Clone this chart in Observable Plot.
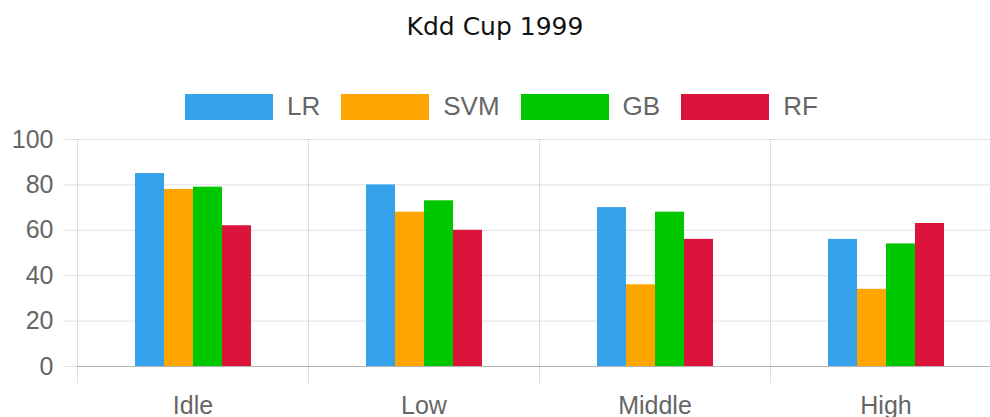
<!DOCTYPE html>
<html>
<head>
<meta charset="utf-8">
<script src="https://cdn.jsdelivr.net/npm/d3@7"></script>
<script src="https://cdn.jsdelivr.net/npm/@observablehq/plot@0.6"></script>
<style>
  html, body { margin: 0; padding: 0; background: #fff; overflow: hidden; width: 990px; height: 417px; }
  #wrap { position: relative; width: 990px; height: 417px; overflow: hidden; }
  #title { position: absolute; left: 0; width: 990px; top: 14px; text-align: center;
           font-family: "DejaVu Sans", sans-serif; font-size: 25px; line-height: 25px; color: #111; }
  #legend { position: absolute; left: 185px; top: 91px; display: flex; align-items: center; white-space: nowrap;
            font-family: "Liberation Sans", Arial, sans-serif; font-size: 26px; color: #666; }
  .item { display: flex; align-items: center; margin-right: 21px; }
  .box { width: 88px; height: 26px; margin-right: 14px; box-sizing: border-box; }
  #chart { position: absolute; left: 0; top: 0; width: 1001px; }
  #chart svg { max-width: none !important; width: 1001px; height: 417px; }
</style>
</head>
<body>
<div id="wrap">
  <div id="chart"></div>
  <div id="title"></div>
  <div id="legend"></div>
</div>
<script>
const title = "Kdd Cup 1999";
const categories = ["Idle", "Low", "Middle", "High"];
const models = ["LR", "SVM", "GB", "RF"];
const colors = ["#36a2eb", "#ffa500", "#00c800", "#dc143c"];
const LR = [85, 80, 70, 56];
const SVM = [78, 68, 36, 34];
const GB = [79, 73, 68, 54];
const RF = [62, 60, 56, 63];
const yTicks = [0, 20, 40, 60, 80, 100];

const series = {LR, SVM, GB, RF};
const data = [];
categories.forEach((c, i) => models.forEach(m => data.push({category: c, model: m, value: series[m][i]})));

document.getElementById("title").textContent = title;
const legend = document.getElementById("legend");
models.forEach((m, i) => {
  const it = document.createElement("div"); it.className = "item";
  const b = document.createElement("div"); b.className = "box"; b.style.background = colors[i];
  const t = document.createElement("span"); t.textContent = m;
  it.appendChild(b); it.appendChild(t); legend.appendChild(it);
});

const chart = Plot.plot({
  width: 1001,
  height: 417,
  marginTop: 139,
  marginBottom: 51,
  marginLeft: 77,
  marginRight: 0,
  fx: {domain: categories, padding: 0, label: null, axis: null},
  x: {domain: models, padding: 0, inset: 57, axis: null},
  y: {domain: [0, 100], label: null, axis: null},
  color: {domain: models, range: colors},
  style: {fontFamily: "'Liberation Sans', Arial, sans-serif", fontSize: "25px", color: "#666", background: "transparent"},
  marks: [
    Plot.gridY(yTicks, {stroke: "#000", strokeOpacity: 0.12}),
    Plot.frame({anchor: "left", stroke: "#000", strokeOpacity: 0.13, insetBottom: -16}),
    Plot.axisY(yTicks, {anchor: "left", tickSize: 14, tickPadding: 10, stroke: "#000", strokeOpacity: 0.12, fill: "#666", fontSize: 25, label: null}),
    Plot.barY(data, {fx: "category", x: "model", y: "value", fill: "model"}),
    Plot.ruleY([0], {stroke: "#000", strokeOpacity: 0.2}),
    Plot.axisFx({anchor: "bottom", tickSize: 0, tickPadding: 30, fill: "#666", fontSize: 25, label: null})
  ]
});
document.getElementById("chart").appendChild(chart);
</script>
</body>
</html>
